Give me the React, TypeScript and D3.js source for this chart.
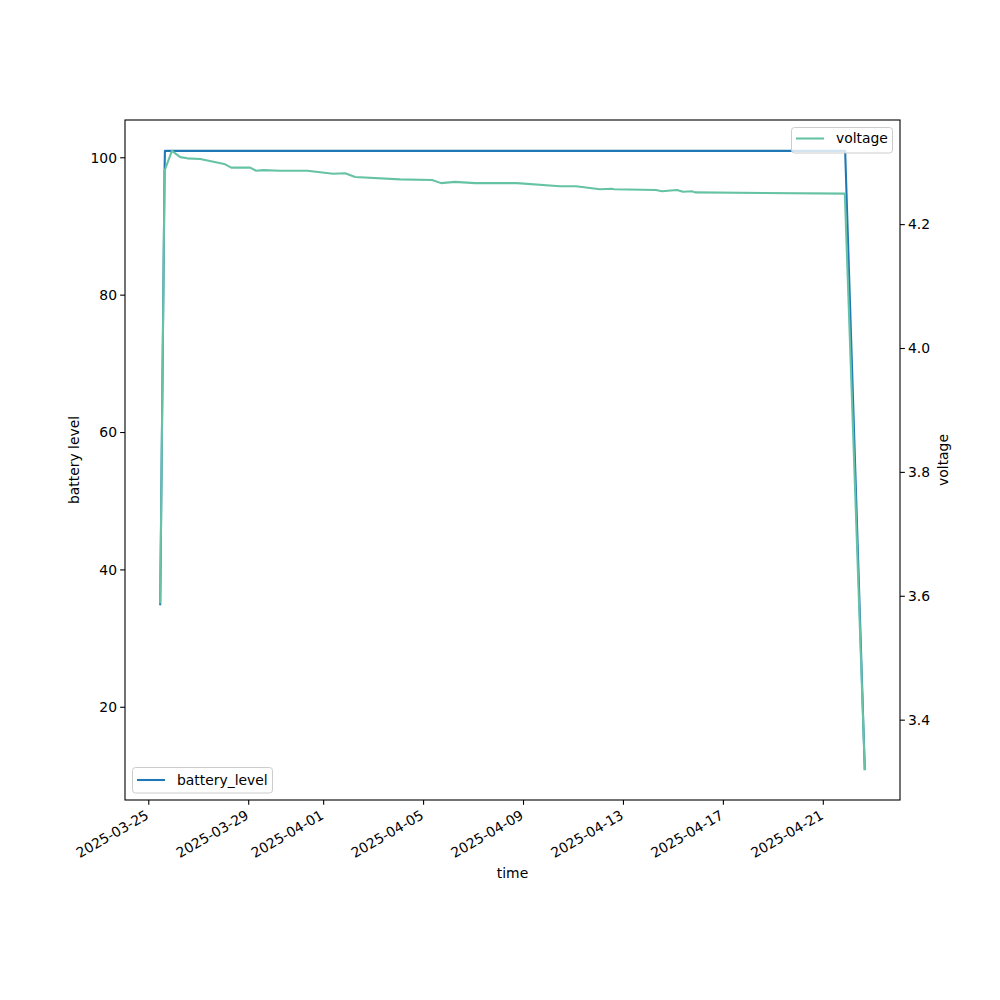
import React from "react";
import * as d3 from "d3";

const batteryTimes = [
  "2025-03-25T11:00",
  "2025-03-25T15:10",
  "2025-03-25T15:30",
  "2025-04-21T21:00",
  "2025-04-22T15:50",
];
const batteryLevels = [35, 98, 101, 101, 11];

const voltageTimes = [
  "2025-03-25T11:00", "2025-03-25T15:10", "2025-03-25T22:16", "2025-03-26T06:14",
  "2025-03-26T13:00", "2025-03-27T01:26", "2025-03-28T00:29", "2025-03-28T07:12",
  "2025-03-29T01:26", "2025-03-29T07:12", "2025-03-29T13:55", "2025-03-30T06:14",
  "2025-03-31T08:10", "2025-04-01T09:07", "2025-04-01T20:38", "2025-04-02T06:14",
  "2025-04-04T01:26", "2025-04-05T08:10", "2025-04-05T16:48", "2025-04-06T06:14",
  "2025-04-07T01:26", "2025-04-08T17:46", "2025-04-10T11:02", "2025-04-11T02:24",
  "2025-04-12T01:26", "2025-04-12T13:00", "2025-04-12T14:53", "2025-04-14T07:12",
  "2025-04-14T13:00", "2025-04-15T03:22", "2025-04-15T09:07", "2025-04-15T17:46",
  "2025-04-15T20:38", "2025-04-21T20:40", "2025-04-22T15:50",
];
const voltages = [
  3.59, 4.287, 4.319, 4.309,
  4.307, 4.306, 4.298, 4.292,
  4.292, 4.287, 4.288, 4.287,
  4.287, 4.282, 4.283, 4.277,
  4.273, 4.272, 4.267, 4.269,
  4.267, 4.267, 4.262, 4.262,
  4.257, 4.258, 4.257, 4.256,
  4.254, 4.256, 4.253, 4.254,
  4.252, 4.25, 3.321,
];

const xTickLabels = [
  "2025-03-25", "2025-03-29", "2025-04-01", "2025-04-05",
  "2025-04-09", "2025-04-13", "2025-04-17", "2025-04-21",
];
const leftTicks = [20, 40, 60, 80, 100];
const rightTicks = [3.4, 3.6, 3.8, 4.0, 4.2];

const parse = d3.utcParse("%Y-%m-%dT%H:%M");
const parseDay = d3.utcParse("%Y-%m-%d");

const L = 125, R = 900, T = 120, B = 800;
const FONT = "DejaVu Sans, sans-serif";
const FS = 13.9;

function padExtent(vals: number[]): [number, number] {
  const [a, b] = d3.extent(vals) as [number, number];
  const m = (b - a) * 0.05;
  return [a - m, b + m];
}

export default function App() {
  const bData = batteryTimes.map((t, i) => ({ t: parse(t)!, v: batteryLevels[i] }));
  const vData = voltageTimes.map((t, i) => ({ t: parse(t)!, v: voltages[i] }));
  const allT = [...bData, ...vData].map((d) => +d.t);
  const [t0, t1] = padExtent(allT);
  const x = d3.scaleUtc().domain([new Date(t0), new Date(t1)]).range([L, R]);
  const yL = d3.scaleLinear().domain(padExtent(batteryLevels)).range([B, T]);
  const yR = d3.scaleLinear().domain(padExtent(voltages)).range([B, T]);

  const lineB = d3.line<{ t: Date; v: number }>().x((d) => x(d.t)).y((d) => yL(d.v));
  const lineV = d3.line<{ t: Date; v: number }>().x((d) => x(d.t)).y((d) => yR(d.v));

  const tickLen = 4.86;
  const lw = 2.08;

  return (
    <div style={{ position: "absolute", left: 0, top: 0 }}>
      <svg width={1000} height={1000} style={{ display: "block", background: "#fff" }} fontFamily={FONT}>
        <rect x={0} y={0} width={1000} height={1000} fill="#fff" />
        <path d={lineB(bData) || ""} fill="none" stroke="#1f77b4" strokeWidth={lw} strokeLinejoin="round" strokeLinecap="square" />
        <path d={lineV(vData) || ""} fill="none" stroke="#66c2a5" strokeWidth={lw} strokeLinejoin="round" strokeLinecap="square" />

        {/* spines */}
        <rect x={L} y={T} width={R - L} height={B - T} fill="none" stroke="#000" strokeWidth={1.1} />

        {/* x ticks */}
        {xTickLabels.map((lab) => {
          const px = x(parseDay(lab)!);
          return (
            <g key={lab}>
              <line x1={px} x2={px} y1={B} y2={B + tickLen} stroke="#000" strokeWidth={1.1} />
              <text
                transform={`translate(${px + 1},${B + 18}) rotate(-30)`}
                textAnchor="end"
                fontSize={FS}
                fill="#000"
              >
                {lab}
              </text>
            </g>
          );
        })}
        <text x={(L + R) / 2} y={878} textAnchor="middle" fontSize={FS}>time</text>

        {/* left ticks */}
        {leftTicks.map((v) => (
          <g key={v}>
            <line x1={L - tickLen} x2={L} y1={yL(v)} y2={yL(v)} stroke="#000" strokeWidth={1.1} />
            <text x={L - 8} y={yL(v)} dy="0.35em" textAnchor="end" fontSize={FS}>{v}</text>
          </g>
        ))}
        <text transform={`translate(79,${(T + B) / 2}) rotate(-90)`} textAnchor="middle" fontSize={FS}>battery level</text>

        {/* right ticks */}
        {rightTicks.map((v) => (
          <g key={v}>
            <line x1={R} x2={R + tickLen} y1={yR(v)} y2={yR(v)} stroke="#000" strokeWidth={1.1} />
            <text x={R + 8} y={yR(v)} dy="0.35em" textAnchor="start" fontSize={FS}>{v.toFixed(1)}</text>
          </g>
        ))}
        <text transform={`translate(948,${(T + B) / 2}) rotate(-90)`} textAnchor="middle" fontSize={FS}>voltage</text>

        {/* legends */}
        <g>
          <rect x={132.5} y={767.5} width={140} height={25.5} rx={3} fill="#fff" fillOpacity={0.8} stroke="#cccccc" strokeWidth={1} />
          <line x1={137} x2={165} y1={780} y2={780} stroke="#1f77b4" strokeWidth={lw} />
          <text x={177} y={780} dy="0.35em" fontSize={FS}>battery_level</text>
        </g>
        <g>
          <rect x={791.5} y={127.5} width={101} height={25.5} rx={3} fill="#fff" fillOpacity={0.8} stroke="#cccccc" strokeWidth={1} />
          <line x1={796} x2={824} y1={138.5} y2={138.5} stroke="#66c2a5" strokeWidth={lw} />
          <text x={836} y={138.5} dy="0.35em" fontSize={FS}>voltage</text>
        </g>
      </svg>
    </div>
  );
}
